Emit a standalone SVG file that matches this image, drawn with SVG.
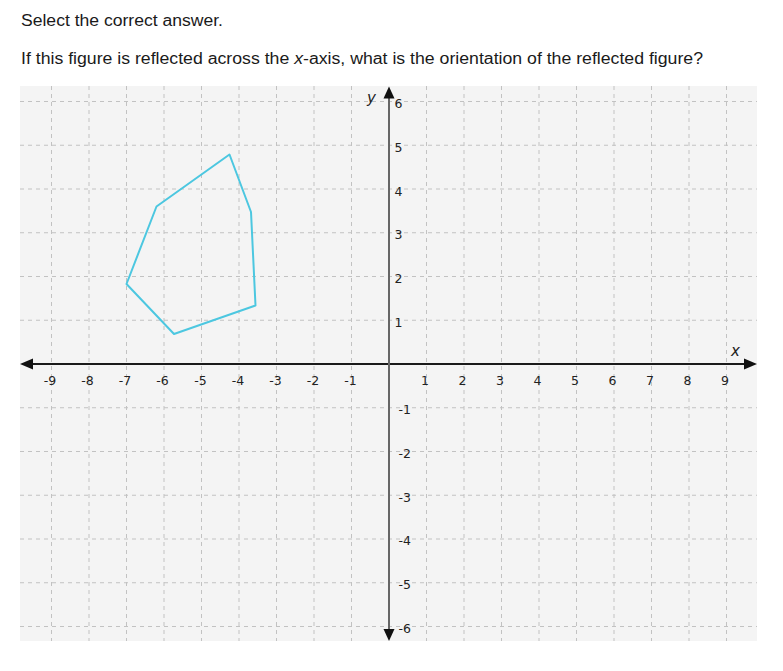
<svg xmlns="http://www.w3.org/2000/svg" width="783" height="671" viewBox="0 0 783 671">
<style>
.q{font-family:"Liberation Sans",Arial,sans-serif;font-size:16px;fill:#1a1a1a}
.grid line{stroke:#c2c2c2;stroke-width:1;stroke-dasharray:4,4}
.tx{font-family:"DejaVu Sans",Verdana,sans-serif;font-size:12.5px;fill:#222;text-anchor:middle}
.ty{font-family:"DejaVu Sans",Verdana,sans-serif;font-size:12.5px;fill:#222}
.ax{font-family:"DejaVu Sans",Verdana,sans-serif;font-size:15px;font-style:italic;fill:#222}
</style>
<rect width="783" height="671" fill="#ffffff"/>
<g id="question">
<text class="q" x="21" y="25.5" textLength="202" lengthAdjust="spacingAndGlyphs">Select the correct answer.</text>
<text class="q" x="21" y="63.5" textLength="682" lengthAdjust="spacingAndGlyphs">If this figure is reflected across the <tspan font-style="italic">x</tspan>-axis, what is the orientation of the reflected figure?</text>
</g>
<g id="plot">
<rect x="20" y="86" width="737" height="555" fill="#f4f4f4"/>
<g class="grid">
<line x1="51.5" y1="86" x2="51.5" y2="641"/>
<line x1="89" y1="86" x2="89" y2="641"/>
<line x1="126.5" y1="86" x2="126.5" y2="641"/>
<line x1="164" y1="86" x2="164" y2="641"/>
<line x1="201.5" y1="86" x2="201.5" y2="641"/>
<line x1="239" y1="86" x2="239" y2="641"/>
<line x1="276.5" y1="86" x2="276.5" y2="641"/>
<line x1="314" y1="86" x2="314" y2="641"/>
<line x1="351.5" y1="86" x2="351.5" y2="641"/>
<line x1="426.5" y1="86" x2="426.5" y2="641"/>
<line x1="464" y1="86" x2="464" y2="641"/>
<line x1="501.5" y1="86" x2="501.5" y2="641"/>
<line x1="539" y1="86" x2="539" y2="641"/>
<line x1="576.5" y1="86" x2="576.5" y2="641"/>
<line x1="614" y1="86" x2="614" y2="641"/>
<line x1="651.5" y1="86" x2="651.5" y2="641"/>
<line x1="689" y1="86" x2="689" y2="641"/>
<line x1="726.5" y1="86" x2="726.5" y2="641"/>
<line x1="20" y1="101.5" x2="757" y2="101.5"/>
<line x1="20" y1="145.25" x2="757" y2="145.25"/>
<line x1="20" y1="189" x2="757" y2="189"/>
<line x1="20" y1="232.75" x2="757" y2="232.75"/>
<line x1="20" y1="276.5" x2="757" y2="276.5"/>
<line x1="20" y1="320.25" x2="757" y2="320.25"/>
<line x1="20" y1="407.75" x2="757" y2="407.75"/>
<line x1="20" y1="451.5" x2="757" y2="451.5"/>
<line x1="20" y1="495.25" x2="757" y2="495.25"/>
<line x1="20" y1="539" x2="757" y2="539"/>
<line x1="20" y1="582.75" x2="757" y2="582.75"/>
<line x1="20" y1="626.5" x2="757" y2="626.5"/>
</g>
</g>
<g id="axes">
<line x1="30" y1="364" x2="746" y2="364" stroke="#1a1a1a" stroke-width="2"/>
<polygon points="20,364 33,358.5 33,369.5" fill="#111"/>
<polygon points="757,364 744,358.5 744,369.5" fill="#111"/>
<line x1="389" y1="96" x2="389" y2="631" stroke="#666" stroke-width="2"/>
<polygon points="389,86.5 383.5,98.5 394.5,98.5" fill="#111"/>
<polygon points="389,641 383.5,629 394.5,629" fill="#111"/>
<text class="ax" x="367" y="103">y</text>
<text class="ax" x="731" y="356">x</text>
</g>
<g id="x-labels">
<text class="tx" x="50" y="385">-9</text>
<text class="tx" x="87.5" y="385">-8</text>
<text class="tx" x="125" y="385">-7</text>
<text class="tx" x="162.5" y="385">-6</text>
<text class="tx" x="200.5" y="385">-5</text>
<text class="tx" x="238" y="385">-4</text>
<text class="tx" x="275.5" y="385">-3</text>
<text class="tx" x="313" y="385">-2</text>
<text class="tx" x="350.5" y="385">-1</text>
<text class="tx" x="425" y="385">1</text>
<text class="tx" x="462.5" y="385">2</text>
<text class="tx" x="500" y="385">3</text>
<text class="tx" x="537.5" y="385">4</text>
<text class="tx" x="575" y="385">5</text>
<text class="tx" x="612.5" y="385">6</text>
<text class="tx" x="650" y="385">7</text>
<text class="tx" x="687.5" y="385">8</text>
<text class="tx" x="725" y="385">9</text>
</g>
<g id="y-labels">
<text class="ty" x="394.5" y="108">6</text>
<text class="ty" x="394.5" y="151.75">5</text>
<text class="ty" x="394.5" y="195.5">4</text>
<text class="ty" x="394.5" y="239.25">3</text>
<text class="ty" x="394.5" y="283">2</text>
<text class="ty" x="394.5" y="326.75">1</text>
<text class="ty" x="398.5" y="414">-1</text>
<text class="ty" x="398.5" y="457.75">-2</text>
<text class="ty" x="398.5" y="501.5">-3</text>
<text class="ty" x="398.5" y="545.25">-4</text>
<text class="ty" x="398.5" y="589">-5</text>
<text class="ty" x="398.5" y="632.75">-6</text>
</g>
<g id="figure">
<polygon points="229.5,154.5 251,212 255.5,305.5 174,334 126.5,284 156.5,206.5" fill="none" stroke="#4cc7e0" stroke-width="2" stroke-linejoin="round"/>
</g>
</svg>
